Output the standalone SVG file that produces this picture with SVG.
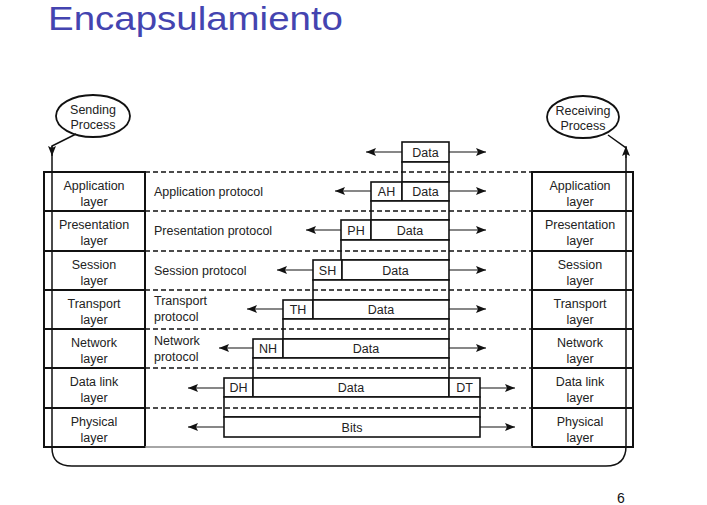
<svg xmlns="http://www.w3.org/2000/svg" width="707" height="505" viewBox="0 0 707 505">
<defs>
<marker id="ah" viewBox="0 0 10 8" refX="10" refY="4" markerWidth="10" markerHeight="8" markerUnits="userSpaceOnUse" orient="auto">
<path d="M0,0 L10,4 L0,8 L2,4 Z" fill="#111"/>
</marker>
<style>
text{font-family:"Liberation Sans",Arial,sans-serif;font-size:12.5px;fill:#222}
.c{text-anchor:middle}
.cell{fill:#fff;stroke:#111;stroke-width:2}
.box{fill:#fff;stroke:#111;stroke-width:1.6}
.dash{stroke:#111;stroke-width:1.5;stroke-dasharray:5,3;fill:none}
.arr{stroke:#111;stroke-width:1.2;fill:none;marker-end:url(#ah)}
.ln{stroke:#111;stroke-width:1.5;fill:none}
</style>
</defs>
<rect width="707" height="505" fill="#fff"/>
<text x="48" y="30" style="font-family:'Liberation Sans',Arial,sans-serif;font-size:33px;fill:#4444b0" textLength="295" lengthAdjust="spacingAndGlyphs">Encapsulamiento</text>
<text x="617" y="503" style="font-size:14px;fill:#111">6</text>

<g id="sending">
<ellipse cx="93" cy="116" rx="37" ry="21" fill="#fff" stroke="#111" stroke-width="1.8"/>
<text x="93" y="114" class="c">Sending</text>
<text x="93" y="129" class="c">Process</text>
</g>
<g id="receiving">
<ellipse cx="583" cy="117" rx="36" ry="21" fill="#fff" stroke="#111" stroke-width="1.8"/>
<text x="583" y="115" class="c">Receiving</text>
<text x="583" y="130" class="c">Process</text>
</g>

<g id="left-stack">
<rect class="cell" x="44" y="172" width="101" height="39"/>
<rect class="cell" x="44" y="211" width="101" height="40"/>
<rect class="cell" x="44" y="251" width="101" height="39"/>
<rect class="cell" x="44" y="290" width="101" height="39"/>
<rect class="cell" x="44" y="329" width="101" height="39"/>
<rect class="cell" x="44" y="368" width="101" height="40"/>
<rect class="cell" x="44" y="408" width="101" height="39"/>
<text x="94" y="190" class="c">Application</text><text x="94" y="206" class="c">layer</text>
<text x="94" y="229" class="c">Presentation</text><text x="94" y="245" class="c">layer</text>
<text x="94" y="269" class="c">Session</text><text x="94" y="285" class="c">layer</text>
<text x="94" y="308" class="c">Transport</text><text x="94" y="324" class="c">layer</text>
<text x="94" y="347" class="c">Network</text><text x="94" y="363" class="c">layer</text>
<text x="94" y="386" class="c">Data link</text><text x="94" y="402" class="c">layer</text>
<text x="94" y="426" class="c">Physical</text><text x="94" y="442" class="c">layer</text>
</g>

<g id="right-stack">
<rect class="cell" x="532" y="172" width="101" height="39"/>
<rect class="cell" x="532" y="211" width="101" height="40"/>
<rect class="cell" x="532" y="251" width="101" height="39"/>
<rect class="cell" x="532" y="290" width="101" height="39"/>
<rect class="cell" x="532" y="329" width="101" height="39"/>
<rect class="cell" x="532" y="368" width="101" height="40"/>
<rect class="cell" x="532" y="408" width="101" height="39"/>
<text x="580" y="190" class="c">Application</text><text x="580" y="206" class="c">layer</text>
<text x="580" y="229" class="c">Presentation</text><text x="580" y="245" class="c">layer</text>
<text x="580" y="269" class="c">Session</text><text x="580" y="285" class="c">layer</text>
<text x="580" y="308" class="c">Transport</text><text x="580" y="324" class="c">layer</text>
<text x="580" y="347" class="c">Network</text><text x="580" y="363" class="c">layer</text>
<text x="580" y="386" class="c">Data link</text><text x="580" y="402" class="c">layer</text>
<text x="580" y="426" class="c">Physical</text><text x="580" y="442" class="c">layer</text>
</g>

<g id="protocol-labels">
<text x="154" y="196">Application protocol</text>
<text x="154" y="235">Presentation protocol</text>
<text x="154" y="275">Session protocol</text>
<text x="154" y="305">Transport</text><text x="154" y="321">protocol</text>
<text x="154" y="345">Network</text><text x="154" y="361">protocol</text>
</g>

<g id="packets">
<rect class="box" x="402" y="142" width="47" height="20"/>
<rect class="box" x="402" y="162" width="47" height="20"/>
<rect class="box" x="371" y="182" width="31" height="19"/>
<rect class="box" x="402" y="182" width="47" height="19"/>
<rect class="box" x="371" y="201" width="78" height="19"/>
<rect class="box" x="341" y="220" width="30" height="20"/>
<rect class="box" x="371" y="220" width="78" height="20"/>
<rect class="box" x="341" y="240" width="108" height="20"/>
<rect class="box" x="313" y="260" width="29" height="20"/>
<rect class="box" x="342" y="260" width="107" height="20"/>
<rect class="box" x="313" y="280" width="136" height="20"/>
<rect class="box" x="283" y="300" width="30" height="19"/>
<rect class="box" x="313" y="300" width="136" height="19"/>
<rect class="box" x="283" y="319" width="166" height="20"/>
<rect class="box" x="253" y="339" width="30" height="19"/>
<rect class="box" x="283" y="339" width="166" height="19"/>
<rect class="box" x="253" y="358" width="196" height="20"/>
<rect class="box" x="224" y="378" width="29" height="19"/>
<rect class="box" x="253" y="378" width="196" height="19"/>
<rect class="box" x="449" y="378" width="31" height="19"/>
<rect class="box" x="224" y="397" width="256" height="20"/>
<rect class="box" x="224" y="417" width="256" height="20"/>
<text x="425.5" y="157" class="c">Data</text>
<text x="386.5" y="196" class="c">AH</text><text x="425.5" y="196" class="c">Data</text>
<text x="356" y="235" class="c">PH</text><text x="410" y="235" class="c">Data</text>
<text x="327.5" y="275" class="c">SH</text><text x="395.5" y="275" class="c">Data</text>
<text x="298" y="314" class="c">TH</text><text x="381" y="314" class="c">Data</text>
<text x="268" y="353" class="c">NH</text><text x="366" y="353" class="c">Data</text>
<text x="238.5" y="392" class="c">DH</text><text x="351" y="392" class="c">Data</text><text x="464.5" y="392" class="c">DT</text>
<text x="352" y="432" class="c">Bits</text>
</g>

<g id="connectors">
<path class="dash" d="M145,172H532M145,211H532M145,251H532M145,290H532M145,329H532M145,368H532M145,408H532"/>
<path d="M145,447H532" stroke="#888" stroke-width="1.5"/>
<path class="ln" d="M76,134L52,146V448Q52,466 72,466H606Q626,466 626,446V148L608,135"/>
<path class="arr" d="M52,146V156"/>
<path class="arr" d="M626,158V146"/>
<path class="arr" d="M402,152H366"/><path class="arr" d="M449,152H486"/>
<path class="arr" d="M371,191H335"/><path class="arr" d="M449,191H486"/>
<path class="arr" d="M341,230H306"/><path class="arr" d="M449,230H486"/>
<path class="arr" d="M313,270H277"/><path class="arr" d="M449,270H486"/>
<path class="arr" d="M283,309H247"/><path class="arr" d="M449,309H486"/>
<path class="arr" d="M253,348H219"/><path class="arr" d="M449,348H486"/>
<path class="arr" d="M224,388H188"/><path class="arr" d="M480,388H515"/>
<path class="arr" d="M224,427H188"/><path class="arr" d="M480,427H515"/>
</g>
</svg>
